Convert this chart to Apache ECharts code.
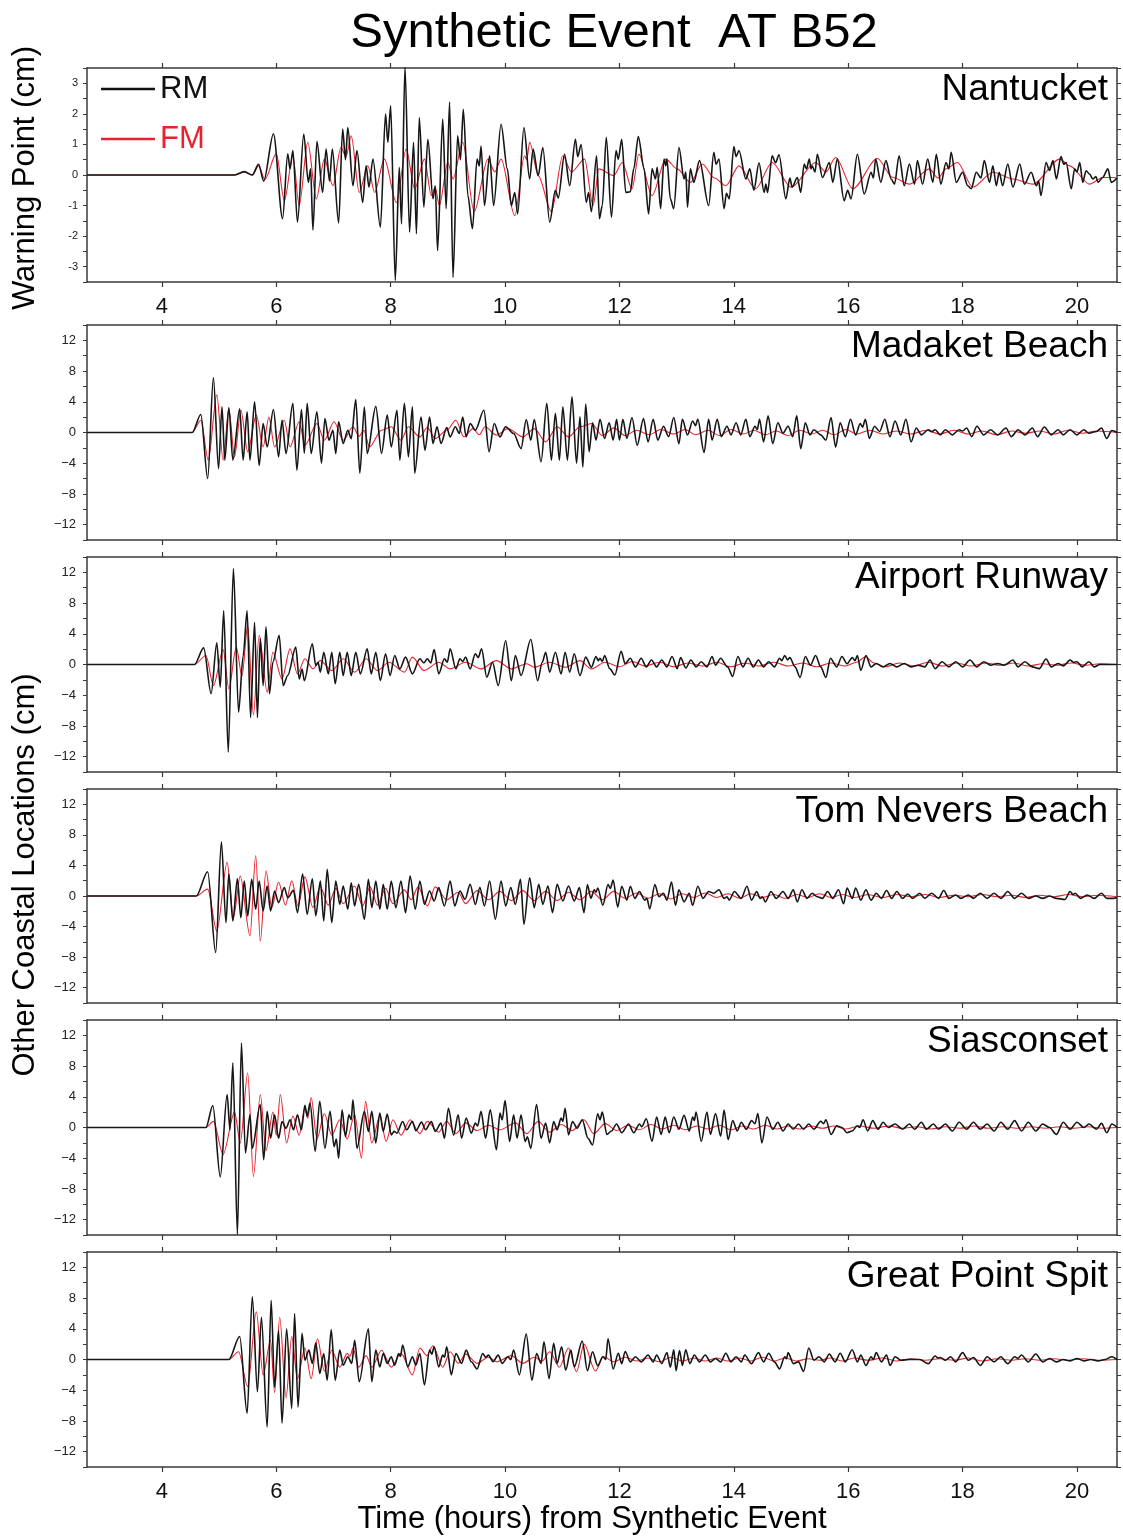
<!DOCTYPE html>
<html>
<head>
<meta charset="utf-8">
<title>Synthetic Event AT B52</title>
<script src="https://cdn.jsdelivr.net/npm/echarts@6/dist/echarts.min.js"></script>
<style>
  html, body { margin: 0; padding: 0; background: #fff; }
  #chart { width: 1123px; height: 1539px; }
</style>
</head>
<body>
<div id="chart"></div>
<script>
// tick labels on the time axis (hours from the synthetic event)
const hourTicks = [4, 6, 8, 10, 12, 14, 16, 18, 20];
const stationNames = ['Nantucket', 'Madaket Beach', 'Airport Runway', 'Tom Nevers Beach', 'Siasconset', 'Great Point Spit'];

// [hours, cm], peaks and troughs of each trace
const nantucketRM = [[2.69,0],[5.27,0],[5.44,0.11],[5.58,0],[5.69,0.35],[5.78,-0.2],[5.95,1.35],[6.11,-1.43],[6.2,0.69],[6.24,0.2],[6.29,0.8],[6.37,-1.54],[6.48,1.34],[6.56,-0.24],[6.6,0.2],[6.64,-1.8],[6.71,1.1],[6.81,-0.57],[6.87,0.85],[6.93,-0.2],[6.98,0.85],[7.09,-1.57],[7.16,1.5],[7.21,0.5],[7.25,1.55],[7.34,-0.35],[7.41,0.8],[7.51,-0.9],[7.57,0.3],[7.62,-0.4],[7.69,0.52],[7.82,-1.71],[7.91,2.0],[7.95,1.07],[8.0,2.26],[8.08,-3.45],[8.15,0.25],[8.19,-1.6],[8.25,3.55],[8.33,-1.87],[8.4,1.07],[8.45,-1.92],[8.5,1.88],[8.58,-1.05],[8.65,1.17],[8.74,-0.78],[8.78,-0.35],[8.82,-2.47],[8.91,1.83],[8.97,-1.1],[9.03,2.39],[9.09,-3.35],[9.17,1.28],[9.22,0.5],[9.27,2.15],[9.35,-0.67],[9.43,-1.76],[9.51,0.52],[9.55,0.3],[9.58,0.95],[9.64,-1.0],[9.73,0.63],[9.8,-1.0],[9.93,1.66],[10.04,0.2],[10.11,-1.0],[10.17,-0.57],[10.22,-1.27],[10.33,1.55],[10.43,-0.13],[10.49,0.85],[10.58,-0.02],[10.66,0.9],[10.78,-1.54],[10.88,-0.5],[10.93,-0.75],[11.04,0.68],[11.13,-0.35],[11.23,1.17],[11.27,0.6],[11.33,1.0],[11.42,-0.9],[11.46,-0.57],[11.51,-1.2],[11.6,0.63],[11.65,-1.43],[11.7,-1.0],[11.77,1.23],[11.86,-1.38],[11.94,0.8],[11.98,0.52],[12.04,1.17],[12.11,-0.57],[12.19,-0.55],[12.25,0.2],[12.33,1.26],[12.43,0.2],[12.51,-1.27],[12.57,0.2],[12.63,-0.13],[12.66,0.25],[12.72,-1.1],[12.78,0.52],[12.81,0.3],[12.83,0.52],[12.89,-0.78],[12.95,-1.1],[13.04,0.9],[13.13,-0.13],[13.16,0.1],[13.19,-1.05],[13.24,0.2],[13.3,-0.24],[13.4,0.47],[13.56,-1.0],[13.65,0.74],[13.69,0.35],[13.74,0.52],[13.83,-1.1],[13.87,-0.6],[13.92,-0.78],[14.0,0.93],[14.04,0.6],[14.09,0.8],[14.21,-0.13],[14.28,0.2],[14.35,-0.5],[14.44,0.4],[14.53,-0.57],[14.56,-0.3],[14.59,-0.57],[14.67,0.63],[14.73,0.4],[14.79,0.66],[14.91,-0.78],[14.98,-0.1],[15.02,-0.4],[15.11,-0.08],[15.17,-0.57],[15.23,0.36],[15.27,0.2],[15.32,0.52],[15.35,0.2],[15.37,0.3],[15.42,0.1],[15.46,0.68],[15.55,-0.08],[15.67,0.41],[15.73,-0.24],[15.81,0.52],[15.93,-0.84],[15.99,-0.5],[16.05,-0.78],[16.16,0.68],[16.28,-0.62],[16.4,0.09],[16.44,-0.1],[16.48,0.52],[16.57,-0.24],[16.66,0.47],[16.75,-0.13],[16.81,-0.3],[16.89,0.63],[16.98,-0.35],[17.07,0.36],[17.16,-0.3],[17.21,0.47],[17.3,-0.3],[17.39,0.52],[17.48,-0.24],[17.54,0.68],[17.62,-0.3],[17.71,0.41],[17.76,0.2],[17.8,0.74],[17.89,-0.24],[18.0,0.09],[18.09,-0.35],[18.15,-0.45],[18.24,0.09],[18.32,-0.1],[18.38,0.47],[18.47,-0.24],[18.53,0.3],[18.59,-0.35],[18.64,0.09],[18.7,-0.35],[18.79,0.36],[18.88,-0.4],[19.0,0.36],[19.08,-0.3],[19.2,0.09],[19.29,-0.35],[19.33,-0.2],[19.37,-0.67],[19.46,0.41],[19.52,0.15],[19.58,0.47],[19.64,-0.13],[19.72,0.6],[19.77,0.35],[19.81,0.41],[19.9,-0.45],[19.96,0.2],[20.0,0.1],[20.05,0.41],[20.1,-0.24],[20.16,0.14],[20.22,0.03],[20.28,-0.13],[20.33,-0.05],[20.37,-0.24],[20.45,-0.08],[20.54,0.2],[20.6,-0.24],[20.7,-0.1]];
const nantucketFM = [[2.69,0],[5.27,0],[5.44,0.1],[5.58,0],[5.69,0.3],[5.8,-0.15],[6.0,0.7],[6.14,-0.84],[6.29,0.63],[6.4,-1.0],[6.55,1.07],[6.7,-0.78],[6.84,0.52],[6.99,-0.35],[7.13,0.9],[7.22,0.6],[7.31,1.28],[7.45,-0.57],[7.6,0.3],[7.72,-0.57],[7.89,0.52],[8.1,-0.9],[8.27,0.85],[8.42,-0.45],[8.59,0.52],[8.71,-0.67],[8.78,-0.4],[8.85,-1.0],[9.0,0.41],[9.09,-0.13],[9.26,1.07],[9.46,-1.2],[9.7,0.52],[9.82,0.1],[9.93,0.52],[10.17,-1.33],[10.34,0.63],[10.38,0.5],[10.43,1.07],[10.58,-0.02],[10.81,-1.2],[11.01,0.63],[11.16,0.1],[11.39,0.52],[11.54,-1.0],[11.64,0.2],[11.9,-0.02],[12.05,0.41],[12.22,-0.45],[12.34,0.68],[12.57,-0.67],[12.81,0.52],[13.01,0.2],[13.24,-0.24],[13.45,0.36],[13.66,-0.1],[13.86,-0.35],[14.09,0.3],[14.38,-0.45],[14.67,0.41],[15.0,-0.4],[15.43,0.41],[15.61,0.1],[15.78,0.57],[16.08,-0.45],[16.51,0.54],[16.78,-0.08],[17.07,-0.3],[17.42,0.2],[17.57,-0.1],[17.71,0.2],[17.91,0.41],[18.18,-0.4],[18.53,0.09],[18.88,-0.13],[19.23,-0.3],[19.7,0.52],[19.87,0.3],[20.22,-0.3],[20.45,-0.08],[20.63,-0.08],[20.7,-0.1]];

const madaketRM = [[2.69,0],[4.53,0],[4.68,2.35],[4.8,-6.0],[4.9,7.17],[4.99,-4.7],[5.05,3.35],[5.1,-3.6],[5.17,3.26],[5.24,-3.6],[5.36,3.1],[5.42,-3.6],[5.49,2.7],[5.54,-3.6],[5.62,4.0],[5.7,-4.3],[5.77,1.17],[5.84,-1.87],[5.95,3.0],[6.04,-3.17],[6.1,1.6],[6.17,-2.74],[6.29,3.8],[6.36,-4.9],[6.44,3.0],[6.49,-2.7],[6.54,3.8],[6.61,-2.74],[6.71,2.7],[6.79,-4.0],[6.85,1.83],[6.92,-1.0],[6.99,0.3],[7.04,-2.74],[7.09,1.4],[7.17,-1.43],[7.25,0.3],[7.31,-0.8],[7.39,4.3],[7.46,-5.3],[7.54,3.3],[7.59,-2.74],[7.74,3.4],[7.84,-2.7],[7.94,2.26],[8.01,-1.87],[8.11,2.9],[8.16,-3.6],[8.24,3.8],[8.31,-3.17],[8.38,3.35],[8.42,-5.3],[8.53,2.0],[8.6,-2.3],[8.68,2.0],[8.74,-1.43],[8.81,0.74],[8.88,-1.43],[8.98,0.65],[9.04,-0.57],[9.13,0.74],[9.2,-0.13],[9.26,2.0],[9.32,-0.57],[9.39,1.17],[9.48,0.3],[9.63,2.9],[9.72,-2.5],[9.81,1.17],[9.91,-0.57],[10.01,0.74],[10.15,-0.13],[10.28,-2.1],[10.37,1.7],[10.45,-1.0],[10.51,1.7],[10.63,-3.8],[10.73,3.8],[10.81,-3.6],[10.88,2.5],[10.95,-3.6],[11.01,3.35],[11.09,-3.6],[11.17,4.65],[11.25,-4.0],[11.31,2.05],[11.36,-4.5],[11.41,3.7],[11.47,-2.5],[11.53,1.27],[11.59,-1.0],[11.66,1.72],[11.74,-0.77],[11.82,1.27],[11.89,-1.0],[11.95,1.72],[12.0,-1.0],[12.06,1.72],[12.13,-0.77],[12.22,1.95],[12.31,-1.68],[12.42,1.81],[12.5,-1.22],[12.59,1.72],[12.67,-1.0],[12.77,0.81],[12.86,-0.54],[12.95,1.95],[13.04,-1.45],[13.1,1.72],[13.19,-0.31],[13.28,1.5],[13.33,0.9],[13.37,1.72],[13.48,-2.6],[13.56,1.72],[13.62,-1.0],[13.71,1.72],[13.78,-0.54],[13.88,0.81],[13.95,-0.31],[14.04,1.27],[14.12,-0.31],[14.21,1.72],[14.28,-0.54],[14.37,0.81],[14.41,0.4],[14.45,1.72],[14.52,-1.22],[14.6,2.17],[14.68,-1.45],[14.77,1.27],[14.86,-0.09],[14.95,0.81],[15.03,-0.54],[15.1,2.17],[15.17,-2.1],[15.25,1.27],[15.33,-0.31],[15.4,0.36],[15.52,-0.31],[15.61,-1.0],[15.7,1.95],[15.78,-1.9],[15.86,1.27],[15.95,-0.54],[16.04,1.72],[16.13,-0.31],[16.21,1.18],[16.25,0.7],[16.3,1.72],[16.37,-0.77],[16.46,0.81],[16.55,0.14],[16.64,1.72],[16.73,-0.54],[16.82,1.5],[16.92,-0.31],[17.01,1.72],[17.1,-1.22],[17.19,0.59],[17.28,-0.31],[17.4,0.36],[17.46,0.1],[17.52,0.36],[17.61,-0.31],[17.7,0.36],[17.82,-0.31],[17.94,0.36],[18.0,0.2],[18.07,0.59],[18.16,-0.54],[18.25,0.81],[18.37,-0.31],[18.49,0.36],[18.61,-0.31],[18.76,0.59],[18.85,-0.54],[18.97,0.36],[19.09,-0.31],[19.22,0.59],[19.31,-0.54],[19.43,0.72],[19.55,-0.31],[19.67,0.36],[19.76,-0.31],[19.88,0.36],[20.0,-0.31],[20.12,0.36],[20.21,-0.09],[20.34,0.14],[20.43,0.59],[20.52,-0.77],[20.61,0.27],[20.7,0]];
const madaketFM = [[2.69,0],[4.53,0],[4.68,1.6],[4.81,-3.6],[4.96,4.9],[5.07,-3.6],[5.17,3.1],[5.27,-3.17],[5.38,2.9],[5.5,-2.5],[5.65,2.26],[5.77,-1.87],[5.87,2.0],[5.97,-1.87],[6.14,1.6],[6.24,-1.87],[6.4,1.4],[6.5,-1.65],[6.71,1.17],[6.84,-1.0],[7.01,1.4],[7.17,-1.0],[7.34,0.74],[7.45,-0.5],[7.53,0.3],[7.63,-1.87],[7.84,0.3],[8.01,0.74],[8.18,-1.0],[8.31,0.74],[8.51,-0.57],[8.64,0.65],[8.78,-0.8],[8.98,0.3],[9.14,1.6],[9.28,-0.57],[9.44,0.5],[9.55,-0.3],[9.65,0.74],[9.85,-0.35],[10.05,0.5],[10.31,-0.57],[10.51,0.5],[10.71,-1.22],[10.91,0.74],[11.11,-0.57],[11.31,0.74],[11.51,1.17],[11.7,-0.4],[11.9,0.6],[12.1,-0.4],[12.3,0.3],[12.52,-0.3],[12.72,0.4],[12.95,-0.2],[13.15,0.4],[13.33,-0.3],[13.55,0.3],[13.75,-0.4],[13.95,0.4],[14.17,-0.2],[14.35,0.3],[14.55,-0.3],[14.74,0.2],[14.95,-0.4],[15.15,0.3],[15.36,-0.2],[15.55,0.3],[15.75,-0.3],[15.96,0.4],[16.15,-0.2],[16.38,0.3],[16.6,-0.2],[16.84,0.2],[17.1,-0.2],[17.36,0.3],[17.6,-0.2],[17.85,0.3],[18.1,-0.2],[18.33,0.2],[18.6,-0.3],[18.86,0.2],[19.1,-0.1],[19.35,0.2],[19.6,-0.2],[19.85,0.3],[20.1,-0.1],[20.36,0.2],[20.7,0]];

const airportRM = [[2.69,0],[4.57,0],[4.73,2.17],[4.86,-3.8],[4.96,2.83],[5.02,-2.95],[5.08,7.0],[5.16,-11.4],[5.25,12.5],[5.34,-6.2],[5.42,1.1],[5.49,7.0],[5.55,-6.9],[5.62,5.5],[5.67,-6.9],[5.72,3.4],[5.77,-2.74],[5.82,4.9],[5.88,-3.8],[5.94,0.3],[6.05,3.8],[6.12,-2.74],[6.2,-1.43],[6.34,2.26],[6.4,-1.87],[6.45,-0.6],[6.49,-2.1],[6.63,2.7],[6.69,-0.13],[6.73,0.3],[6.77,-1.0],[6.83,1.6],[6.91,-1.22],[6.97,1.6],[7.03,-2.5],[7.11,1.6],[7.17,-1.43],[7.24,1.6],[7.31,-1.43],[7.39,1.6],[7.47,-1.22],[7.59,2.03],[7.66,-1.22],[7.74,1.6],[7.82,-2.1],[7.91,1.4],[7.99,-1.43],[8.07,1.17],[8.16,-0.57],[8.26,0.96],[8.38,-1.22],[8.51,0.74],[8.58,0.2],[8.64,0.74],[8.7,0.2],[8.76,1.95],[8.84,-1.22],[8.94,0.74],[8.99,0.3],[9.04,2.03],[9.14,-0.57],[9.21,0.74],[9.26,0.4],[9.31,0.96],[9.39,-0.57],[9.48,1.4],[9.53,0.9],[9.59,2.03],[9.68,-1.65],[9.78,0.3],[9.88,-2.74],[10.01,3.1],[10.11,-2.1],[10.18,1.17],[10.28,-1.43],[10.45,3.26],[10.57,-2.1],[10.65,0.3],[10.71,1.6],[10.78,-1.0],[10.88,1.6],[10.98,-1.22],[11.05,1.6],[11.13,-1.0],[11.21,1.4],[11.31,-1.43],[11.41,0.96],[11.51,-0.35],[11.59,1.04],[11.63,0.5],[11.66,0.81],[11.7,0.4],[11.74,1.18],[11.83,-0.54],[11.92,-1.36],[12.03,1.72],[12.1,0.09],[12.19,0.81],[12.28,-0.31],[12.38,0.81],[12.47,-0.31],[12.56,0.59],[12.65,-0.31],[12.74,0.59],[12.83,-0.31],[12.92,1.04],[13.01,-0.54],[13.07,0.9],[13.16,-0.45],[13.25,0.59],[13.34,-0.31],[13.43,0.36],[13.53,-0.31],[13.62,1.04],[13.68,-0.09],[13.77,0.81],[13.89,-0.31],[13.98,-1.54],[14.07,1.04],[14.16,-0.31],[14.25,0.81],[14.34,-0.31],[14.43,0.59],[14.52,-0.31],[14.61,0.36],[14.71,-0.31],[14.8,0.81],[14.84,0.5],[14.89,1.18],[14.94,0.6],[14.98,0.9],[15.07,-0.31],[15.16,-1.68],[15.25,1.04],[15.34,-0.09],[15.43,1.18],[15.52,-0.31],[15.61,-1.68],[15.69,0.81],[15.8,-0.31],[15.89,1.04],[15.98,0.09],[16.07,0.9],[16.12,0.5],[16.16,1.18],[16.22,-0.77],[16.31,1.18],[16.4,-0.31],[16.49,0.14],[16.61,-0.31],[16.73,0.14],[16.85,-0.31],[16.98,0.14],[17.1,-0.31],[17.22,-0.09],[17.34,-0.31],[17.43,0.59],[17.52,-0.54],[17.64,0.36],[17.76,-0.31],[17.88,0.36],[18.0,-0.31],[18.13,0.59],[18.25,-0.31],[18.37,0.36],[18.49,-0.09],[18.61,0.14],[18.73,-0.09],[18.88,0.59],[18.97,-0.31],[19.09,0.36],[19.22,-0.31],[19.34,-0.54],[19.46,0.72],[19.55,-0.31],[19.67,0.14],[19.76,-0.18],[19.88,0.59],[19.94,0.3],[20.0,0.36],[20.09,-0.31],[20.21,0.36],[20.3,-0.31],[20.4,0],[20.61,0],[20.7,0]];
const airportFM = [[2.69,0],[4.57,0],[4.77,1.17],[4.9,-2.74],[5.07,1.95],[5.17,-3.17],[5.3,2.26],[5.4,-1.5],[5.5,5.1],[5.6,-6.6],[5.7,3.8],[5.84,-3.6],[5.94,1.6],[6.1,-1.87],[6.24,2.03],[6.37,-1.22],[6.5,0.74],[6.64,-0.57],[6.77,0.5],[6.97,-0.8],[7.17,0.74],[7.37,-1.0],[7.57,0.74],[7.77,-0.8],[7.97,0.3],[8.24,-1.0],[8.38,0.96],[8.58,-0.8],[8.84,0.3],[9.04,-0.57],[9.31,0.3],[9.58,-0.57],[9.85,0.5],[10.11,-0.57],[10.38,0.1],[10.51,-0.35],[10.78,0.3],[11.05,-0.35],[11.31,0.5],[11.51,-0.57],[11.75,0.3],[12.0,-0.3],[12.22,0.4],[12.45,-0.2],[12.7,0.3],[12.95,-0.3],[13.2,0.2],[13.46,-0.2],[13.7,0.3],[13.95,-0.3],[14.2,0.2],[14.44,-0.2],[14.7,0.3],[14.95,-0.2],[15.2,0.2],[15.45,-0.3],[15.7,0.2],[15.95,-0.2],[16.15,0.3],[16.3,1.0],[16.45,0.2],[16.65,-0.3],[16.9,0.2],[17.15,-0.2],[17.4,0.3],[17.65,-0.2],[17.9,0.2],[18.15,-0.2],[18.4,0.2],[18.65,-0.1],[18.9,0.2],[19.15,-0.2],[19.4,0.1],[19.65,-0.1],[19.9,0.2],[20.15,-0.1],[20.4,0.1],[20.7,0]];

const tomNeversRM = [[2.69,0],[4.6,0],[4.8,3.17],[4.94,-7.4],[5.04,7.1],[5.12,-3.48],[5.17,2.9],[5.24,-3.26],[5.32,2.26],[5.38,-2.83],[5.44,1.96],[5.5,-2.6],[5.57,2.17],[5.64,-1.74],[5.7,1.96],[5.77,-1.96],[5.84,1.3],[5.9,-1.96],[5.97,0.65],[6.04,-0.87],[6.14,1.09],[6.2,-0.22],[6.3,0.74],[6.37,-2.17],[6.46,2.87],[6.54,-2.39],[6.63,2.26],[6.69,-2.6],[6.77,1.96],[6.83,-3.26],[6.89,3.48],[6.97,-3.48],[7.04,1.96],[7.11,-1.09],[7.17,1.3],[7.25,-1.74],[7.31,1.74],[7.37,-1.3],[7.44,1.52],[7.54,-3.04],[7.61,2.17],[7.67,-1.52],[7.74,1.96],[7.81,-1.74],[7.87,1.52],[7.94,-1.74],[8.01,1.96],[8.09,-1.52],[8.18,1.96],[8.26,-2.17],[8.34,2.6],[8.43,-1.74],[8.51,1.96],[8.59,-1.09],[8.68,0.65],[8.76,-0.65],[8.84,1.09],[8.94,-1.3],[9.04,1.96],[9.12,-1.3],[9.21,0.65],[9.3,-0.43],[9.39,1.52],[9.48,-1.09],[9.56,1.09],[9.64,-1.3],[9.73,1.96],[9.83,-3.04],[9.93,1.96],[10.01,-1.3],[10.1,1.09],[10.18,-1.09],[10.27,2.17],[10.33,-3.7],[10.43,2.39],[10.51,-1.52],[10.59,1.52],[10.66,-1.09],[10.75,1.3],[10.83,-2.17],[10.91,1.52],[11.01,-0.65],[11.11,1.3],[11.21,-0.65],[11.3,1.09],[11.38,-2.17],[11.44,1.5],[11.5,-0.31],[11.56,0.81],[11.59,0.5],[11.62,1.04],[11.71,-1.22],[11.8,1.5],[11.84,1.0],[11.89,2.08],[11.97,-1.45],[12.04,1.27],[12.13,-0.54],[12.19,1.27],[12.27,-0.31],[12.35,0.59],[12.44,-0.54],[12.48,-0.3],[12.53,-1.68],[12.62,1.5],[12.69,-0.09],[12.77,0.36],[12.83,-0.54],[12.91,1.81],[12.98,-1.22],[13.04,0.81],[13.13,-0.77],[13.22,0.36],[13.28,-1.22],[13.37,1.27],[13.46,-0.31],[13.56,0.59],[13.65,0.36],[13.74,0.81],[13.83,-0.31],[13.88,-0.1],[13.92,-0.54],[14.01,0.59],[14.13,-0.31],[14.23,1.27],[14.31,-0.54],[14.4,0.59],[14.46,-0.31],[14.5,-0.1],[14.55,-0.77],[14.65,0.59],[14.74,-0.31],[14.86,0.59],[14.95,-0.31],[15.04,0.81],[15.11,-0.77],[15.19,0.81],[15.28,-0.31],[15.37,0.36],[15.46,-0.09],[15.55,-0.31],[15.64,0.59],[15.73,-0.31],[15.83,0.81],[15.92,-1.0],[15.98,1.04],[16.07,-0.31],[16.13,1.04],[16.22,-0.54],[16.31,0.81],[16.4,-0.54],[16.49,0.36],[16.58,-0.31],[16.67,0.72],[16.76,-0.31],[16.85,0.59],[16.95,-0.31],[17.04,0.27],[17.13,-0.31],[17.25,0.36],[17.34,-0.31],[17.46,0.36],[17.58,-0.31],[17.67,0.72],[17.76,-0.31],[17.88,0.14],[17.97,-0.31],[18.1,0.14],[18.19,-0.31],[18.31,0.36],[18.43,-0.31],[18.55,0.36],[18.67,-0.31],[18.79,0.59],[18.91,-0.31],[19.03,0.36],[19.15,-0.31],[19.28,0],[19.4,-0.31],[19.52,0],[19.64,-0.31],[19.79,-0.45],[19.88,0.59],[19.93,0.2],[19.97,0.36],[20.06,-0.31],[20.18,0.14],[20.3,-0.31],[20.43,0.36],[20.52,-0.31],[20.64,-0.31],[20.7,-0.2]];
const tomNeversFM = [[2.69,0],[4.6,0],[4.8,0.9],[4.96,-4.6],[5.14,4.4],[5.25,-2.8],[5.37,2.6],[5.54,-5.2],[5.64,5.3],[5.72,-5.9],[5.82,3.3],[5.92,-1.5],[6.04,1.8],[6.16,-1.2],[6.27,2.0],[6.38,-1.3],[6.5,2.5],[6.64,-1.5],[6.77,1.2],[6.91,-1.2],[7.04,1.0],[7.17,-1.0],[7.37,1.3],[7.51,-1.3],[7.64,1.2],[7.77,-1.2],[7.91,1.0],[8.04,-1.0],[8.24,0.8],[8.36,-0.5],[8.48,1.2],[8.64,-1.3],[8.78,1.2],[8.98,-0.5],[9.18,0.5],[9.31,-1.0],[9.51,0.7],[9.71,-0.5],[9.91,0.6],[10.11,-0.6],[10.31,0.7],[10.51,-0.6],[10.71,0.6],[10.91,-0.6],[11.11,0.5],[11.31,-0.5],[11.51,0.6],[11.7,-0.5],[11.9,0.6],[12.1,-0.3],[12.3,0.4],[12.5,-0.3],[12.7,0.3],[12.9,-0.4],[13.1,0.3],[13.3,-0.2],[13.5,0.4],[13.7,-0.2],[13.9,0.3],[14.1,-0.3],[14.3,0.3],[14.5,-0.2],[14.7,0.2],[14.9,-0.3],[15.1,0.2],[15.3,-0.2],[15.5,0.3],[15.7,-0.2],[15.9,0.2],[16.1,-0.2],[16.35,0.2],[16.6,-0.2],[16.85,0.2],[17.1,-0.1],[17.35,0.2],[17.6,-0.2],[17.85,0.1],[18.1,-0.1],[18.35,0.2],[18.6,-0.1],[18.85,0.1],[19.1,-0.2],[19.35,0.1],[19.6,-0.1],[19.85,0.2],[20.1,-0.1],[20.35,0.1],[20.7,-0.1]];

const siasconsetRM = [[2.69,0],[4.77,0],[4.89,2.87],[5.02,-6.43],[5.14,4.3],[5.19,-0.3],[5.24,8.4],[5.32,-13.9],[5.39,11.0],[5.46,-3.3],[5.54,1.65],[5.58,-2.7],[5.72,3.0],[5.78,-4.2],[5.84,2.1],[5.9,-1.4],[5.97,1.65],[6.04,-1.4],[6.1,0.78],[6.17,-0.1],[6.24,1.0],[6.3,-0.3],[6.37,1.65],[6.44,-0.3],[6.5,2.9],[6.54,1.5],[6.59,3.17],[6.68,-3.1],[6.76,3.4],[6.85,-2.7],[6.94,2.1],[7.01,-2.5],[7.05,-1.5],[7.09,-4.0],[7.15,2.3],[7.21,-1.2],[7.27,1.65],[7.31,1.0],[7.34,3.6],[7.41,-2.7],[7.54,2.1],[7.61,-0.5],[7.67,2.1],[7.74,-2.0],[7.81,1.87],[7.87,-0.5],[7.94,1.74],[8.01,-0.96],[8.06,-0.5],[8.11,-0.74],[8.21,0.78],[8.28,-0.3],[8.38,0.78],[8.44,-0.43],[8.54,0.7],[8.61,-0.3],[8.71,0.78],[8.78,-0.5],[8.88,0.57],[8.94,-1.4],[9.01,2.5],[9.1,-1.0],[9.18,1.65],[9.24,-1.4],[9.32,1.22],[9.41,-0.74],[9.48,0.57],[9.52,0.2],[9.58,2.1],[9.66,-1.4],[9.74,2.3],[9.85,-2.9],[9.91,1.87],[9.95,1.0],[10.0,3.5],[10.08,-1.83],[10.15,1.65],[10.21,-1.4],[10.28,1.65],[10.35,-1.83],[10.39,-1.2],[10.45,-2.7],[10.55,3.0],[10.63,-1.4],[10.71,0.57],[10.78,-2.0],[10.85,0.78],[10.91,-0.3],[10.98,1.22],[11.01,0.8],[11.05,2.5],[11.11,-0.96],[11.18,0.78],[11.26,-0.1],[11.35,1.0],[11.45,-1.4],[11.53,-2.26],[11.62,1.8],[11.66,1.0],[11.7,2.0],[11.78,-0.9],[11.86,-0.45],[11.95,0.45],[12.04,-0.68],[12.16,0.45],[12.25,-0.68],[12.35,0.45],[12.39,0.1],[12.47,1.13],[12.57,-1.81],[12.65,1.36],[12.73,-0.9],[12.8,1.36],[12.87,-0.68],[12.95,1.36],[13.04,-0.23],[13.13,1.58],[13.22,-0.45],[13.28,1.36],[13.31,0.9],[13.34,2.0],[13.43,-1.81],[13.53,2.0],[13.59,-0.9],[13.68,1.81],[13.77,-1.13],[13.83,2.26],[13.9,-1.58],[13.98,0.9],[14.06,-0.45],[14.13,0.68],[14.22,-0.23],[14.31,0.9],[14.37,0.5],[14.42,1.81],[14.49,-2.0],[14.58,1.36],[14.68,-0.23],[14.77,0.68],[14.86,-0.45],[14.95,0.45],[15.04,-0.23],[15.13,0.45],[15.22,-0.23],[15.31,0.45],[15.4,-0.23],[15.52,0.81],[15.57,0.5],[15.61,1.0],[15.7,-0.9],[15.8,0.23],[15.89,0],[15.98,-0.68],[16.07,-0.45],[16.16,0.23],[16.2,0],[16.26,1.0],[16.34,-0.45],[16.43,0.9],[16.52,-0.23],[16.61,0.68],[16.7,0],[16.82,0.45],[16.95,-0.23],[17.07,0.45],[17.16,-0.23],[17.28,0.68],[17.37,-0.23],[17.49,0.45],[17.58,-0.23],[17.7,0.45],[17.82,-0.45],[17.94,0.68],[18.07,-0.23],[18.19,0.68],[18.31,-0.23],[18.43,0.45],[18.55,-0.45],[18.67,0.68],[18.79,-0.23],[18.91,0.9],[19.03,-0.45],[19.15,0.68],[19.28,-0.45],[19.4,0.45],[19.52,0],[19.64,-0.9],[19.76,0.68],[19.88,-0.23],[20.0,0.68],[20.12,0],[20.21,0.45],[20.34,-0.23],[20.43,0.54],[20.52,-0.68],[20.61,0.45],[20.7,0]];
const siasconsetFM = [[2.69,0],[4.77,0],[4.9,0.8],[5.07,-3.5],[5.27,2.0],[5.37,-2.0],[5.5,7.1],[5.6,-6.4],[5.72,4.3],[5.82,-3.0],[5.94,2.0],[6.0,-1.0],[6.07,4.3],[6.18,-2.0],[6.29,1.5],[6.4,-1.0],[6.5,2.5],[6.55,1.2],[6.61,3.9],[6.71,-1.5],[6.84,1.8],[6.97,-1.0],[7.11,1.0],[7.24,-1.5],[7.37,1.7],[7.49,-4.0],[7.56,3.4],[7.67,-2.0],[7.81,1.5],[7.92,-1.8],[8.04,1.0],[8.18,-1.0],[8.34,1.0],[8.51,-0.8],[8.64,0.8],[8.84,-0.6],[8.98,0.8],[9.14,-0.8],[9.31,0.6],[9.51,-0.4],[9.71,0.3],[9.91,-0.3],[10.18,0.6],[10.38,-0.8],[10.58,0.8],[10.78,-0.6],[10.98,0.4],[11.18,-0.4],[11.38,1.0],[11.55,-0.8],[11.75,0.5],[11.95,-0.4],[12.15,0.3],[12.35,-0.3],[12.55,0.4],[12.75,-0.2],[12.95,0.3],[13.15,-0.3],[13.35,0.2],[13.55,-0.2],[13.75,0.3],[13.95,-0.3],[14.15,0.2],[14.35,-0.2],[14.55,0.3],[14.75,-0.2],[14.95,0.2],[15.15,-0.2],[15.35,0.2],[15.55,-0.1],[15.75,0.2],[15.95,-0.2],[16.2,0.2],[16.45,-0.1],[16.7,0.2],[16.95,-0.1],[17.2,0.1],[17.45,-0.2],[17.7,0.1],[17.95,-0.1],[18.2,0.2],[18.45,-0.1],[18.7,0.1],[18.95,-0.1],[19.2,0.1],[19.45,-0.1],[19.7,0.1],[19.95,-0.1],[20.2,0.1],[20.45,-0.1],[20.7,0]];

const greatPointRM = [[2.69,0],[5.17,0],[5.36,3.0],[5.49,-7.0],[5.58,8.2],[5.67,-4.2],[5.74,5.5],[5.84,-8.8],[5.91,7.7],[5.97,-3.6],[6.04,3.8],[6.1,-8.3],[6.18,4.0],[6.27,-6.4],[6.32,6.0],[6.38,-6.2],[6.45,3.4],[6.5,-0.1],[6.57,1.22],[6.63,-0.5],[6.69,2.17],[6.76,-1.83],[6.83,0.78],[6.89,-2.7],[6.96,3.9],[7.03,-2.7],[7.11,1.22],[7.17,-0.74],[7.25,0.35],[7.32,-0.5],[7.37,2.5],[7.45,-2.9],[7.61,4.0],[7.67,-2.9],[7.74,1.22],[7.81,-0.96],[7.87,0.78],[7.94,-0.5],[8.01,0.35],[8.07,-0.74],[8.14,0.78],[8.17,0.4],[8.21,1.87],[8.3,-0.96],[8.38,0.35],[8.44,-0.74],[8.51,0.78],[8.59,-3.3],[8.68,1.22],[8.72,0.7],[8.76,1.65],[8.84,-0.96],[8.91,0.57],[8.94,0.3],[8.98,1.65],[9.06,-2.0],[9.14,0.78],[9.24,-0.5],[9.32,1.22],[9.41,-0.3],[9.51,-1.22],[9.61,0.78],[9.66,0.3],[9.71,0.57],[9.79,-0.3],[9.88,0.57],[9.95,-0.5],[10.05,0.35],[10.1,0],[10.15,1.22],[10.25,-2.0],[10.37,3.3],[10.47,-2.7],[10.55,0.78],[10.63,-0.5],[10.68,2.3],[10.77,-2.5],[10.85,2.1],[10.91,-0.5],[10.99,1.65],[11.06,-1.4],[11.15,1.22],[11.21,-0.96],[11.35,2.4],[11.44,-1.45],[11.53,1.0],[11.62,-0.8],[11.71,0.36],[11.76,0],[11.8,2.7],[11.89,-1.22],[11.98,0.81],[12.04,-0.54],[12.1,1.04],[12.19,-0.31],[12.28,0.36],[12.38,-0.31],[12.5,0.59],[12.59,-0.31],[12.65,0.59],[12.74,-0.54],[12.83,0.9],[12.89,-1.0],[12.95,1.27],[12.99,-1.45],[13.05,1.18],[13.1,-0.77],[13.16,1.27],[13.23,-0.54],[13.31,0.59],[13.4,-0.31],[13.5,0.59],[13.59,-0.31],[13.68,0.14],[13.77,-0.31],[13.86,0.81],[13.95,-0.31],[14.04,0.36],[14.13,-0.31],[14.19,0.59],[14.31,-0.54],[14.43,0.9],[14.52,-0.31],[14.61,0.81],[14.71,-0.31],[14.8,-1.22],[14.89,0.36],[14.92,0.1],[14.95,0.9],[15.04,-0.54],[15.13,-0.31],[15.22,-1.54],[15.31,1.5],[15.4,-0.09],[15.49,0.36],[15.58,-0.31],[15.67,0.72],[15.77,-0.31],[15.86,0.81],[15.95,-0.31],[16.07,1.27],[16.16,-0.31],[16.22,0.59],[16.31,-0.77],[16.4,0.36],[16.44,0],[16.49,0.9],[16.58,-0.31],[16.67,0.59],[16.73,-0.77],[16.82,0.36],[16.92,-0.09],[17.07,0],[17.25,0],[17.4,-0.54],[17.52,0.45],[17.57,0.2],[17.61,0.27],[17.7,-0.09],[17.79,0.36],[17.88,-0.31],[18.0,0.9],[18.1,-0.09],[18.19,0.27],[18.31,-0.77],[18.43,0.36],[18.55,-0.31],[18.67,0.36],[18.79,-0.54],[18.91,0.36],[18.97,0.15],[19.03,0.59],[19.15,-0.31],[19.28,0.72],[19.4,-0.31],[19.52,0.14],[19.64,-0.31],[19.76,0],[19.88,-0.18],[20.0,0.14],[20.12,-0.18],[20.24,0],[20.37,-0.18],[20.49,0],[20.61,0.36],[20.7,0]];
const greatPointFM = [[2.69,0],[5.17,0],[5.34,1.0],[5.5,-3.5],[5.65,6.2],[5.77,-2.0],[5.9,2.5],[5.97,-4.3],[6.06,5.5],[6.17,-5.0],[6.27,3.0],[6.37,-2.5],[6.5,1.5],[6.61,-2.5],[6.72,2.7],[6.84,-1.5],[6.97,1.2],[7.11,-1.0],[7.24,0.8],[7.29,0.4],[7.34,1.5],[7.44,-1.0],[7.57,0.5],[7.67,-1.0],[7.84,1.2],[8.01,-1.0],[8.18,0.8],[8.38,-2.0],[8.51,1.5],[8.63,0.5],[8.74,1.8],[8.91,-1.0],[9.04,1.0],[9.18,-0.5],[9.31,0.7],[9.51,-0.5],[9.71,0.3],[9.85,-0.3],[10.11,0.5],[10.31,-0.5],[10.51,0.3],[10.65,-0.2],[10.78,1.0],[10.95,-1.0],[11.11,1.5],[11.25,-1.6],[11.38,2.0],[11.58,-1.5],[11.72,0.4],[11.9,-0.3],[12.1,0.3],[12.3,-0.2],[12.5,0.2],[12.7,-0.3],[12.9,0.3],[13.1,-0.2],[13.3,0.2],[13.5,-0.2],[13.7,0.2],[13.9,-0.2],[14.1,0.2],[14.3,-0.2],[14.5,0.3],[14.7,-0.2],[14.9,0.2],[15.1,-0.2],[15.3,0.1],[15.5,-0.1],[15.7,0.2],[15.9,-0.2],[16.1,0.2],[16.35,-0.1],[16.6,0.2],[16.85,-0.2],[17.1,0.1],[17.35,-0.1],[17.6,0.1],[17.85,-0.1],[18.1,0.2],[18.35,-0.2],[18.6,0.1],[18.85,-0.1],[19.1,0.1],[19.35,-0.1],[19.6,0.1],[19.85,-0.1],[20.1,0.1],[20.4,-0.1],[20.7,0]];

const rmSeries = [nantucketRM, madaketRM, airportRM, tomNeversRM, siasconsetRM, greatPointRM];
const fmSeries = [nantucketFM, madaketFM, airportFM, tomNeversFM, siasconsetFM, greatPointFM];

const FONT = '"Liberation Sans", Arial, Helvetica, sans-serif';
const AXIS_COLOR = '#3a3a3a';
const RED = '#e8222f';

// panel frames in pixels
const panelTops = [68, 325, 557, 789, 1020, 1252];
const panelHeights = [214, 215, 215, 214, 215, 215];
const nameY = [90, 347, 578, 812, 1042, 1277];

const chart = echarts.init(document.getElementById('chart'), null, { renderer: 'canvas' });

const grids = [], xAxes = [], yAxes = [], series = [], graphics = [];

const minus = (v) => (v < 0 ? '\u2212' + Math.abs(v) : String(v));

stationNames.forEach((name, i) => {
    grids.push({ left: 87, top: panelTops[i], width: 1030, height: panelHeights[i], containLabel: false });
    const showX = i === 0 || i === stationNames.length - 1;
    const xBase = {
        type: 'value', gridIndex: i, min: 2.69, max: 20.7,
        axisLine: { show: true, onZero: false, lineStyle: { color: AXIS_COLOR, width: 1.5 } },
        axisTick: { show: true, inside: false, length: 5, customValues: hourTicks, lineStyle: { color: AXIS_COLOR, width: 1.2 } },
        splitLine: { show: false }
    };
    xAxes.push(Object.assign({}, xBase, {
        position: 'bottom',
        axisLabel: { show: showX, customValues: hourTicks, fontSize: 22, color: '#111', fontFamily: FONT, margin: 14 }
    }));
    xAxes.push(Object.assign({}, xBase, { position: 'top', axisLabel: { show: false } }));

    const warning = i === 0;
    const yBase = {
        type: 'value', gridIndex: i,
        min: warning ? -3.5 : -14, max: warning ? 3.5 : 14, interval: warning ? 0.5 : 2,
        axisLine: { show: true, onZero: false, lineStyle: { color: AXIS_COLOR, width: 1.5 } },
        axisTick: { show: true, inside: false, length: 4, lineStyle: { color: AXIS_COLOR, width: 1 } },
        splitLine: { show: false }
    };
    yAxes.push(Object.assign({}, yBase, {
        position: 'left',
        axisLabel: {
            show: true, fontSize: warning ? 11 : 13, color: '#222', fontFamily: FONT, margin: warning ? 9 : 11,
            showMinLabel: true, showMaxLabel: true,
            formatter: (v) => {
                const step = warning ? 1 : 4;
                if (Math.abs(v) > (warning ? 3 : 12) + 1e-6) return '';
                if (Math.abs(v / step - Math.round(v / step)) > 1e-6) return '';
                return warning ? String(v) : minus(v);
            }
        }
    }));
    yAxes.push(Object.assign({}, yBase, { position: 'right', axisLabel: { show: false } }));

    const lineBase = {
        type: 'line', xAxisIndex: 2 * i, yAxisIndex: 2 * i,
        showSymbol: false, symbol: 'none', smooth: 0.3, smoothMonotone: 'x',
        silent: true, animation: false
    };
    series.push(Object.assign({}, lineBase, {
        name: 'FM', data: fmSeries[i], z: 2,
        itemStyle: { color: RED }, lineStyle: { color: RED, width: 1.1 }
    }));
    series.push(Object.assign({}, lineBase, {
        name: 'RM', data: rmSeries[i], z: 3,
        itemStyle: { color: '#111' }, lineStyle: { color: '#161616', width: 1.6 }
    }));

    graphics.push({
        type: 'text', x: 1108, y: nameY[i],
        style: { text: name, fontSize: 37, fontFamily: FONT, fill: '#000', align: 'right', verticalAlign: 'middle' }
    });
});

graphics.push(
    { type: 'text', x: 614, y: 33,
      style: { text: 'Synthetic Event  AT B52', fontSize: 49, fontFamily: FONT, fill: '#000', align: 'center', verticalAlign: 'middle' } },
    { type: 'text', x: 25, y: 178, rotation: Math.PI / 2,
      style: { text: 'Warning Point (cm)', fontSize: 31, fontFamily: FONT, fill: '#000', align: 'center', verticalAlign: 'middle' } },
    { type: 'text', x: 25, y: 875, rotation: Math.PI / 2,
      style: { text: 'Other Coastal Locations (cm)', fontSize: 31, fontFamily: FONT, fill: '#000', align: 'center', verticalAlign: 'middle' } },
    { type: 'text', x: 592, y: 1519,
      style: { text: 'Time (hours) from Synthetic Event', fontSize: 31, fontFamily: FONT, fill: '#000', align: 'center', verticalAlign: 'middle' } }
);

chart.setOption({
    backgroundColor: '#fff',
    animation: false,
    textStyle: { fontFamily: FONT },
    legend: {
        left: 96, top: 68, orient: 'vertical', itemGap: 18,
        itemWidth: 54, itemHeight: 2.5, icon: 'rect', selectedMode: false,
        textStyle: { fontSize: 31, fontFamily: FONT, lineHeight: 32 },
        data: [
            { name: 'RM', textStyle: { color: '#111' } },
            { name: 'FM', textStyle: { color: RED } }
        ]
    },
    grid: grids,
    xAxis: xAxes,
    yAxis: yAxes,
    series: series,
    graphic: graphics
});
</script>
</body>
</html>
